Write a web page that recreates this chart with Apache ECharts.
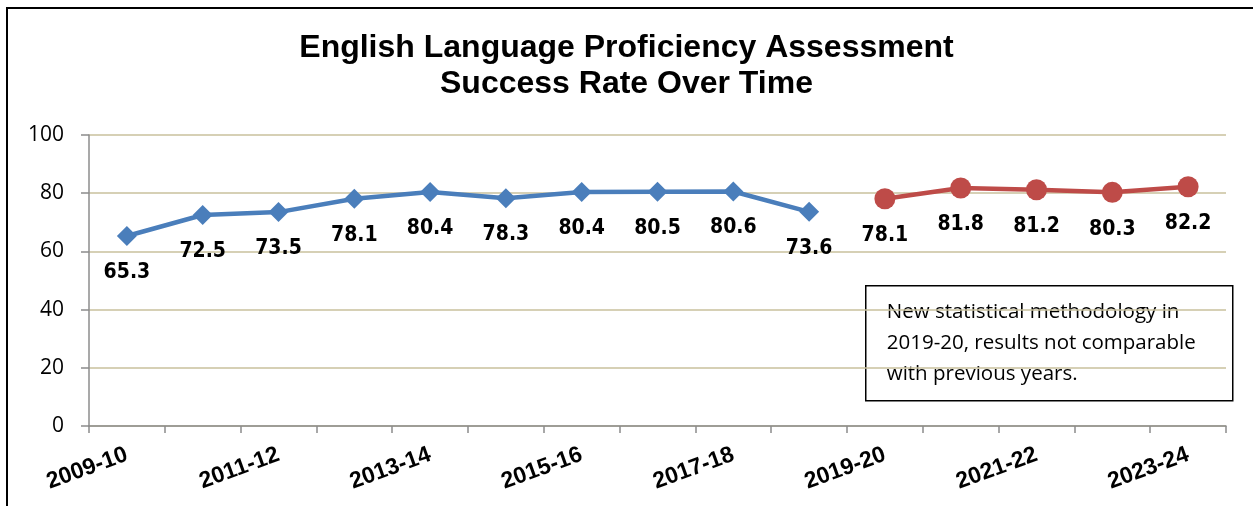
<!DOCTYPE html>
<html><head><meta charset="utf-8">
<script src="https://cdn.jsdelivr.net/npm/echarts@6/dist/echarts.min.js"></script>
<style>html,body{margin:0;padding:0;background:#fff}#c{width:1253px;height:506px}</style>
</head><body><div id="c"></div>
<script>
const categories = ['2009-10','2010-11','2011-12','2012-13','2013-14','2014-15','2015-16','2016-17','2017-18','2018-19','2019-20','2020-21','2021-22','2022-23','2023-24'];
const oldMethod = [65.3,72.5,73.5,78.1,80.4,78.3,80.4,80.5,80.6,73.6,null,null,null,null,null];
const newMethod = [null,null,null,null,null,null,null,null,null,null,78.1,81.8,81.2,80.3,82.2];
const yTicks = [0,20,40,60,80,100];
const titleLines = ['English Language Proficiency Assessment','Success Rate Over Time'];
const noteLines = ['New statistical methodology in','2019-20, results not comparable','with previous years.'];

const chart = echarts.init(document.getElementById('c'));
const labelStyle = {show:true, position:'bottom', distance:16, fontFamily:'"DejaVu Sans Condensed","Liberation Sans Narrow","Arial Narrow",sans-serif', fontWeight:'bold', fontSize:21, color:'#000'};
chart.setOption({
  animation:false,
  title:{text:titleLines.join('\n'), left:'center', top:25, textStyle:{fontFamily:'"Liberation Sans",Arial,sans-serif', fontWeight:'bold', fontSize:32, lineHeight:36, color:'#000'}},
  graphic:[
    {type:'rect', shape:{x:7,y:8,width:1300,height:600}, style:{fill:null, stroke:'#000', lineWidth:2}, z:-1},
    {type:'group', left:865, top:285, children:[
      {type:'rect', shape:{x:0,y:0,width:367,height:115}, style:{fill:'#fff', stroke:'#000', lineWidth:1.5}},
      {type:'text', x:21, y:11, style:{text:noteLines.join('\n'), fontFamily:'"Open Sans","Noto Sans",sans-serif', fontSize:20.5, lineHeight:31, fill:'#000'}}
    ], z:10}
  ],
  grid:{left:89, right:27, top:135, bottom:80},
  xAxis:{type:'category', data:categories, boundaryGap:true,
    axisLine:{lineStyle:{color:'#8c8c8c', width:1.5}},
    axisTick:{show:true, interval:0, length:7, lineStyle:{color:'#8c8c8c', width:1.5}},
    axisLabel:{interval:1, rotate:20, margin:28, fontFamily:'"Liberation Sans",Arial,sans-serif', fontWeight:'bold', fontSize:23, color:'#000'}},
  yAxis:{type:'value', min:yTicks[0], max:yTicks[yTicks.length-1], interval:20,
    axisLine:{show:true, lineStyle:{color:'#8c8c8c', width:1.5}},
    axisTick:{show:true, length:8, lineStyle:{color:'#8c8c8c', width:1.5}},
    splitLine:{lineStyle:{color:'#c9c19c', width:1.5}},
    axisLabel:{margin:25, fontFamily:'"Open Sans","Noto Sans",sans-serif', fontSize:21, color:'#000'}},
  series:[
    {type:'line', data:oldMethod, symbol:'diamond', symbolSize:20, lineStyle:{color:'#4a7ebb', width:4.5}, itemStyle:{color:'#4a7ebb'}, label:labelStyle, connectNulls:false},
    {type:'line', data:newMethod, symbol:'circle', symbolSize:21, lineStyle:{color:'#be4b48', width:4.5}, itemStyle:{color:'#be4b48'}, label:labelStyle, connectNulls:false}
  ]
});
</script></body></html>
